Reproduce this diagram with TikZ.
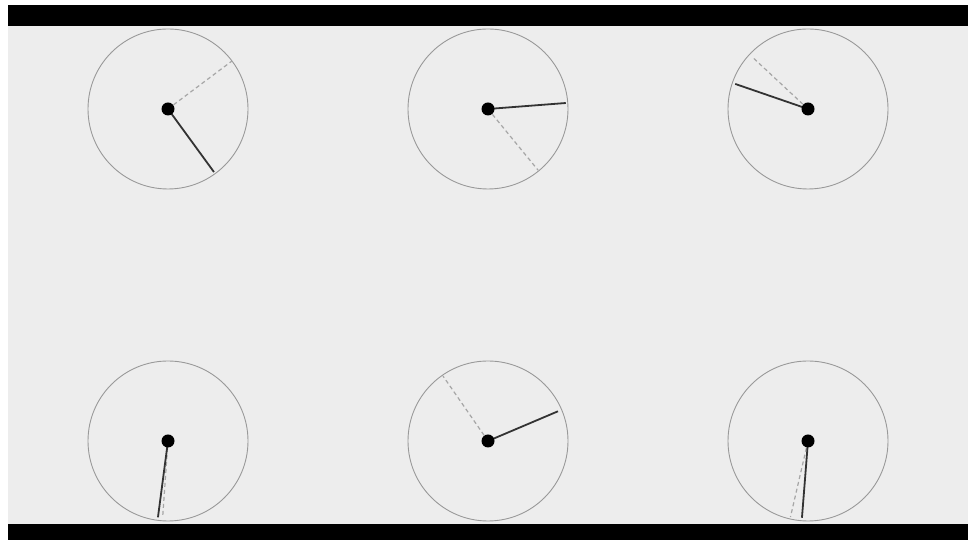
\documentclass[tikz,border=0pt]{standalone}
\usetikzlibrary{calc}
\begin{document}
\begin{tikzpicture}[x=1pt,y=1pt,
  dial/.style={circle,draw=gray!80,line width=0.9pt,minimum size=160pt,inner sep=0pt},
  hub/.style={circle,fill=black,minimum size=13pt,inner sep=0pt},
  hand/.style={draw=black!80,line width=1.8pt},
  ghost/.style={draw=black!35,line width=1.2pt,dashed,dash pattern=on 4pt off 3pt}]
\useasboundingbox (0,0) rectangle (970,540);
\fill[white] (0,0) rectangle (970,540);
\fill[black!7] (8,16) rectangle (968,514);
\fill[black] (8,514) rectangle (968,535);
\fill[black] (8,0) rectangle (968,16);
% dials
\node[dial] (d1) at (168,431) {};
\node[dial] (d2) at (488,431) {};
\node[dial] (d3) at (808,431) {};
\node[dial] (d4) at (168,99) {};
\node[dial] (d5) at (488,99) {};
\node[dial] (d6) at (808,99) {};
% hand end points
\coordinate (s1) at ($(d1.center)+(-53.9:78)$);
\coordinate (g1) at ($(d1.center)+(36.9:80)$);
\coordinate (s2) at ($(d2.center)+(4.4:78)$);
\coordinate (g2) at ($(d2.center)+(-50.7:79)$);
\coordinate (s3) at ($(d3.center)+(161:77)$);
\coordinate (g3) at ($(d3.center)+(137:76)$);
\coordinate (s4) at ($(d4.center)+(-97.5:77)$);
\coordinate (g4) at ($(d4.center)+(-94:77)$);
\coordinate (s5) at ($(d5.center)+(23:76)$);
\coordinate (g5) at ($(d5.center)+(124.7:79)$);
\coordinate (s6) at ($(d6.center)+(-94.5:77)$);
\coordinate (g6) at ($(d6.center)+(-103:78)$);
\foreach \i in {1,...,6}{
  \draw[ghost] (d\i.center) -- (g\i);
  \draw[hand] (d\i.center) -- (s\i);
  \node[hub] (h\i) at (d\i.center) {};
}
\end{tikzpicture}
\end{document}
